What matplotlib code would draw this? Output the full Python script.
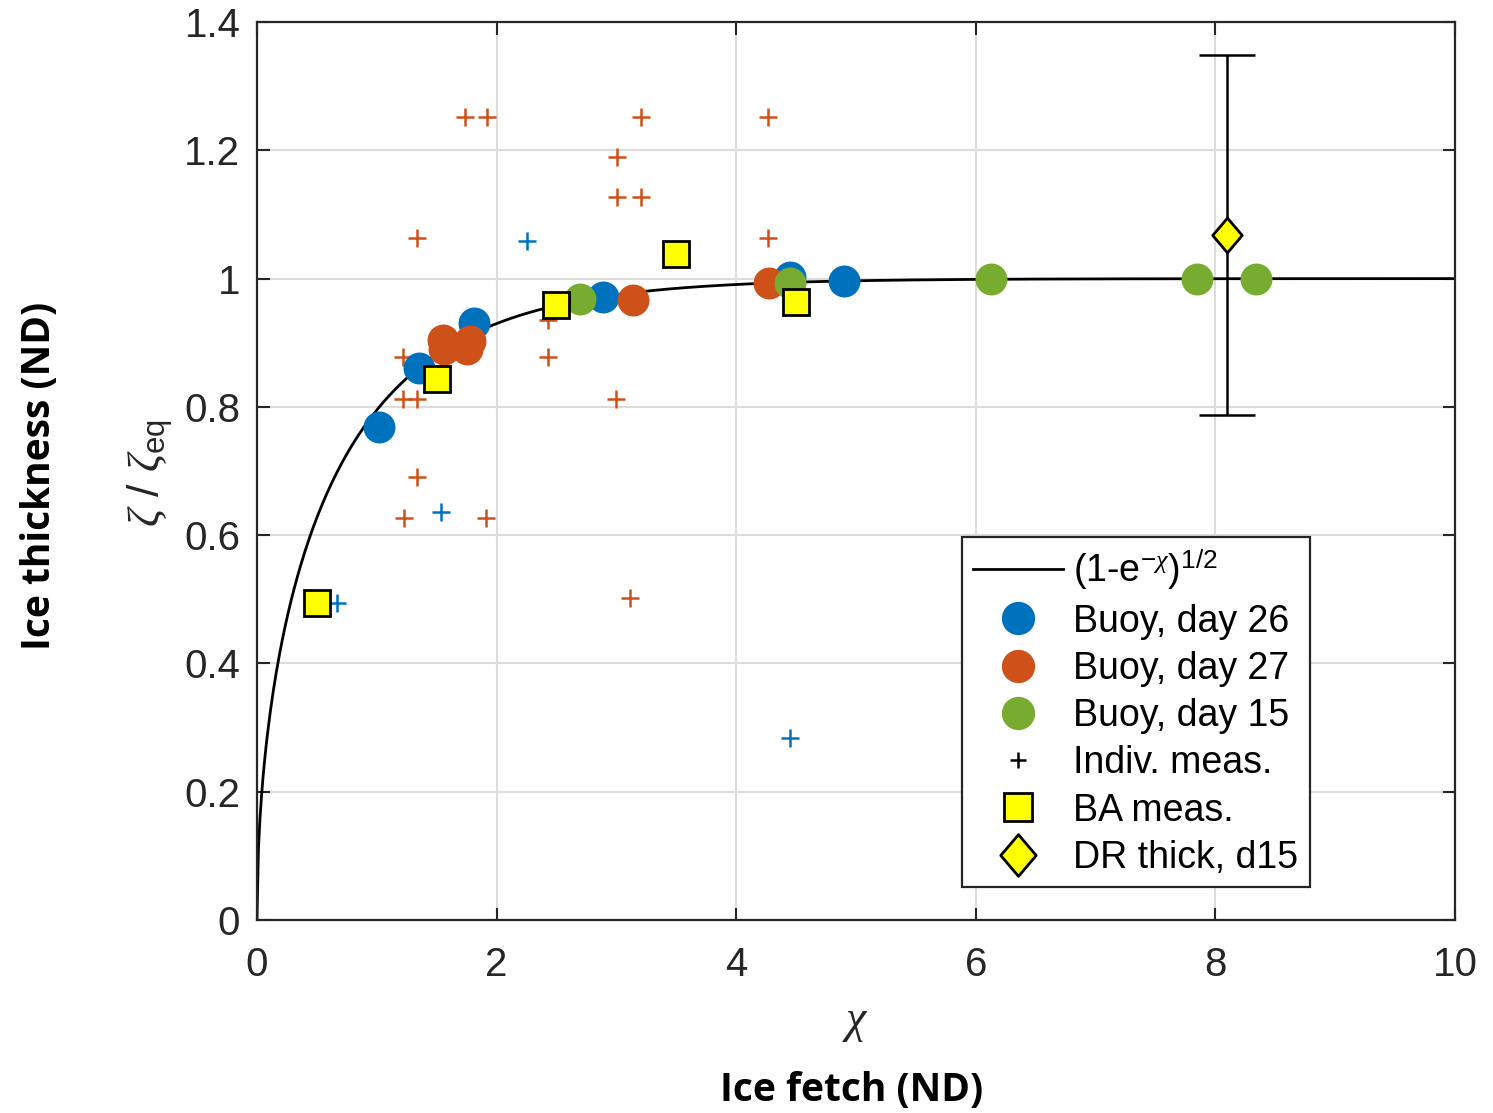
import numpy as np
import matplotlib.pyplot as plt
from matplotlib.lines import Line2D
from matplotlib.path import Path
from matplotlib.ticker import FuncFormatter

plt.rcParams['font.family'] = ['Liberation Sans', 'DejaVu Sans']
plt.rcParams['mathtext.fontset'] = 'custom'
plt.rcParams['mathtext.rm'] = 'Liberation Sans'
plt.rcParams['mathtext.it'] = 'Liberation Serif:italic'
plt.rcParams['mathtext.bf'] = 'Liberation Sans:bold'

# buoy averages, one series per day
buoy26_x = [1.02, 1.35, 1.81, 2.89, 4.45, 4.90]
buoy26_y = [0.769, 0.860, 0.930, 0.972, 1.003, 0.996]
buoy27_x = [1.555, 1.56, 1.75, 1.78, 3.14, 4.27]
buoy27_y = [0.905, 0.891, 0.891, 0.902, 0.967, 0.993]
buoy15_x = [2.70, 4.45, 6.13, 7.85, 8.34]
buoy15_y = [0.968, 0.993, 0.999, 0.999, 0.999]

# individual measurements (day 27 in red, day 26 in blue)
ind27_x = [1.74, 1.92, 3.205, 4.265, 3.005, 3.005, 3.205, 1.333, 4.265, 2.43,
           1.22, 2.43, 1.22, 1.333, 3.00, 1.333, 1.227, 1.911, 3.113]
ind27_y = [1.252, 1.252, 1.252, 1.252, 1.190, 1.127, 1.127, 1.064, 1.064, 0.935,
           0.878, 0.877, 0.813, 0.813, 0.813, 0.690, 0.626, 0.626, 0.502]
ind26_x = [2.25, 1.533, 0.670, 4.45]
ind26_y = [1.058, 0.636, 0.494, 0.284]

# bin averages
ba_x = [0.50, 1.50, 2.50, 3.50, 4.50]
ba_y = [0.495, 0.844, 0.959, 1.038, 0.964]

# drift thickness, day 15, with range
dr_x = [8.10]
dr_y = [1.068]
dr_lo = [0.787]
dr_hi = [1.349]

c_blue = '#0072BD'
c_red = '#CE511A'
c_green = '#77AC30'
c_yel = '#FFFF00'
dark = '#262626'

fig = plt.figure(figsize=(14.93, 11.13), dpi=100)
ax = fig.add_axes([0.1721, 0.1734, 0.8025, 0.8068])

chi = np.linspace(0, 10, 800)
ax.plot(chi, np.sqrt(1 - np.exp(-chi)), color='k', lw=2.0, zorder=2)

ax.plot(ind27_x, ind27_y, '+', color=c_red, ms=13, mew=1.8, zorder=3)
ax.plot(ind26_x, ind26_y, '+', color=c_blue, ms=13, mew=1.8, zorder=3)

ax.plot(buoy26_x, buoy26_y, 'o', color=c_blue, ms=23, mew=0, zorder=4)
ax.plot(buoy27_x, buoy27_y, 'o', color=c_red, ms=23, mew=0, zorder=5)
ax.plot(buoy15_x, buoy15_y, 'o', color=c_green, ms=23, mew=0, zorder=6)

ax.plot(ba_x, ba_y, 's', mfc=c_yel, mec='k', ms=19, mew=2, zorder=7)

diamond = Path([(0, 1), (0.85, 0), (0, -1), (-0.85, 0), (0, 1)],
               [Path.MOVETO, Path.LINETO, Path.LINETO, Path.LINETO, Path.CLOSEPOLY])
yerr = [[y - lo for y, lo in zip(dr_y, dr_lo)], [hi - y for y, hi in zip(dr_y, dr_hi)]]
ax.errorbar(dr_x, dr_y, yerr=yerr, fmt='none', ecolor='k', elinewidth=1.8,
            capsize=20, capthick=1.8, zorder=8)
ax.plot(dr_x, dr_y, marker=diamond, ls='none', mfc=c_yel, mec='k', ms=25, mew=2, zorder=9)

ax.set_xlim(0, 10)
ax.set_ylim(0, 1.4)
ax.set_xticks(np.arange(0, 11, 2))
ax.set_yticks(np.arange(0, 1.41, 0.2))
ax.yaxis.set_major_formatter(FuncFormatter(lambda v, p: '%g' % round(v, 2)))
ax.grid(True, color='#DCDCDC', lw=1.5)
ax.set_axisbelow(True)
ax.tick_params(direction='in', top=True, right=True, length=9, width=1.5,
               colors=dark, labelsize=29, pad=12)
ax.tick_params(axis='x', pad=19)
for s in ax.spines.values():
    s.set_color(dark)
    s.set_linewidth(1.6)

fig.text(150 / 1493, 0.575, r'$\zeta$ / $\zeta_{\rm eq}$', rotation=90, ha='center', va='center',
         fontsize=32, color=dark)
fig.text(855 / 1493, 1 - 1022 / 1113, r'$\chi$', ha='center', va='center', fontsize=33, color=dark)
fig.text(40 / 1493, 1 - 476 / 1113, 'Ice thickness (ND)', rotation=90, ha='center', va='center',
         fontsize=28, fontweight='bold', family=['Open Sans', 'DejaVu Sans'], color='k')
fig.text(852 / 1493, 1 - 1091 / 1113, 'Ice fetch (ND)', ha='center', va='center',
         fontsize=28, fontweight='bold', family=['Open Sans', 'DejaVu Sans'], color='k')

handles = [
    Line2D([], [], color='k', lw=2.0),
    Line2D([], [], ls='none', marker='o', color=c_blue, ms=24, mew=0),
    Line2D([], [], ls='none', marker='o', color=c_red, ms=24, mew=0),
    Line2D([], [], ls='none', marker='o', color=c_green, ms=24, mew=0),
    Line2D([], [], ls='none', marker='+', color='k', ms=11, mew=1.8),
    Line2D([], [], ls='none', marker='s', mfc=c_yel, mec='k', ms=20, mew=2),
    Line2D([], [], ls='none', marker=diamond, mfc=c_yel, mec='k', ms=30, mew=2),
]
labels = [r'(1-e$^{-\chi}$)$^{\rm 1/2}$', 'Buoy, day 26', 'Buoy, day 27', 'Buoy, day 15',
          'Indiv. meas.', 'BA meas.', 'DR thick, d15']
leg = ax.legend(handles, labels, loc='lower left', bbox_to_anchor=(0.5885, 0.0367),
                borderaxespad=0, fontsize=27, handlelength=2.4, handletextpad=0.27,
                labelspacing=0.3, borderpad=0.3, fancybox=False, framealpha=1,
                edgecolor=dark)
leg.get_frame().set_linewidth(1.6)
for t in leg.get_texts():
    t.set_color('k')

fig.savefig('out.png', dpi=100)
